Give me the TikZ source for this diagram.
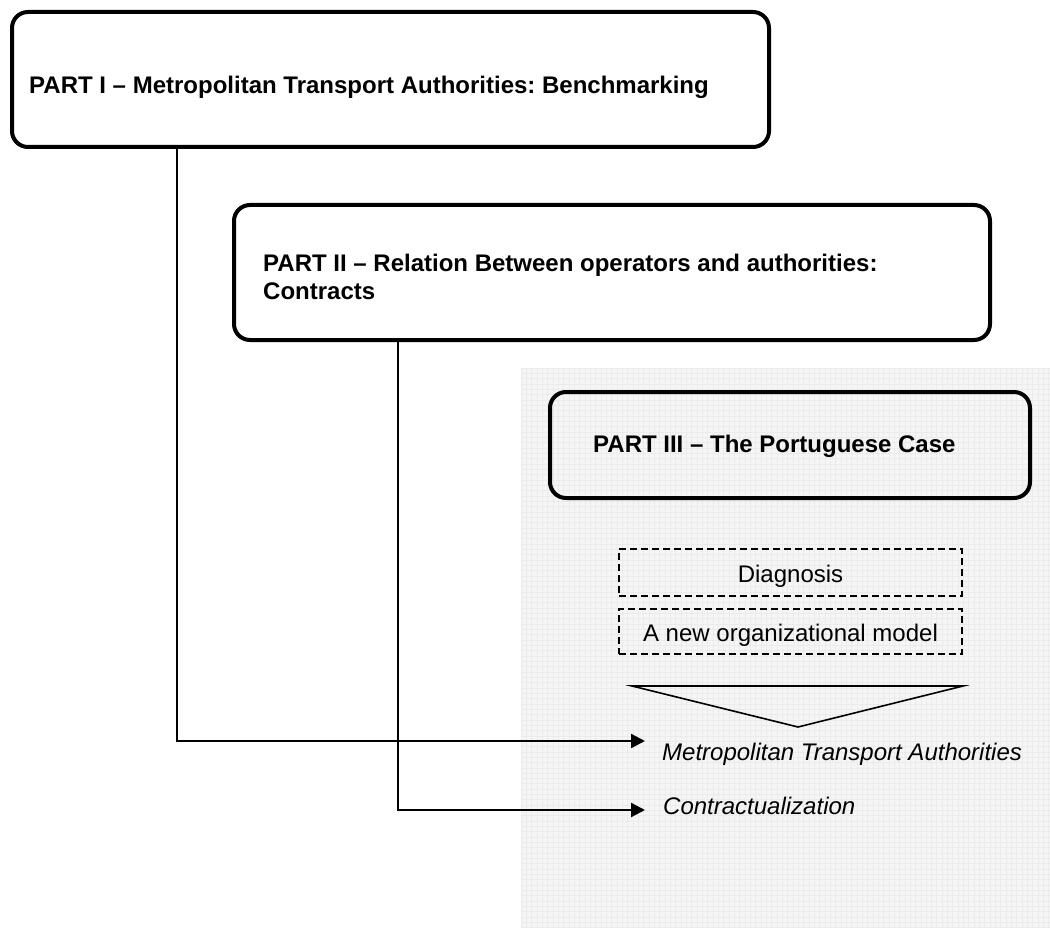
\documentclass[tikz,border=0pt]{standalone}
\usepackage{fontspec}
\setmainfont{Liberation Sans}
\usetikzlibrary{arrows.meta}
\definecolor{bggrey}{RGB}{245,245,245}
\definecolor{gridgrey}{RGB}{235,235,235}
\frenchspacing
\begin{document}
\begin{tikzpicture}[x=1pt,y=-1pt,
  partbox/.style={draw, line width=4pt, rounded corners=16pt, inner sep=0pt, outer sep=0pt},
  parttext/.style={font=\fontsize{24}{28}\selectfont\bfseries, inner sep=0pt, anchor=base west},
  subbox/.style={draw, line width=1.8pt, dash pattern=on 7pt off 4pt, minimum width=343pt,
     inner sep=0pt, outer sep=0pt, text height=20pt, text depth=0pt, font=\fontsize{24}{28}\selectfont},
  outtext/.style={font=\fontsize{24}{28}\selectfont\itshape, inner sep=0pt, anchor=base west},
  conn/.style={line width=2.2pt, -{Triangle[length=14pt,width=14pt]}}]
\fill[white] (0,0) rectangle (1050,928);
\useasboundingbox (0,0) rectangle (1050,928);
% grey panel
\fill[bggrey] (521,368) rectangle (1050,928);
\begin{scope}
  \clip (521,368) rectangle (1050,928);
  \foreach \gx in {0,...,100} {
    \draw[gridgrey, line width=0.5pt] (521+5.33*\gx,368) -- (521+5.33*\gx,928);
  }
  \foreach \gy in {0,...,106} {
    \draw[gridgrey, line width=0.5pt] (521,368+5.33*\gy) -- (1050,368+5.33*\gy);
  }
\end{scope}
% Part boxes
\node[partbox, minimum width=757pt, minimum height=135pt] (b1) at (390.5,79.5) {};
\node[parttext] (t1) at (29,94) {PART I – Metropolitan Transport Authorities: Benchmarking};
\node[partbox, minimum width=756pt, minimum height=135pt] (b2) at (612,272.5) {};
\node[parttext] (t2) at (263,272) {\vtop{\hbox{PART II – Relation Between operators and authorities:}\hbox{Contracts}}};
\node[partbox, minimum width=480pt, minimum height=106pt] (b3) at (790,445) {};
\node[parttext] (t3) at (593,452) {PART III – The Portuguese Case};
% dashed boxes
\node[subbox, minimum height=47pt] (d1) at (790.5,572.5) {Diagnosis};
\node[subbox, minimum height=45pt] (d2) at (790.5,631.5) {A new organizational model};
% funnel triangle
\coordinate (fl) at (632,686);
\coordinate (fr) at (963,686);
\coordinate (fa) at (798,727);
\draw[line width=1.6pt, line join=miter] (fl) -- (fr) -- (fa) -- cycle;
% outputs
\node[outtext] (m1) at (662,760) {Metropolitan Transport Authorities};
\node[outtext] (m2) at (663,814) {Contractualization};
% connectors
\coordinate (x1) at (177,0);
\coordinate (x2) at (398,0);
\coordinate (tip1) at (645,741);
\coordinate (tip2) at (645,810);
\draw[conn] (b1.south -| x1) |- (tip1);
\draw[conn] (b2.south -| x2) |- (tip2);
\end{tikzpicture}
\end{document}
